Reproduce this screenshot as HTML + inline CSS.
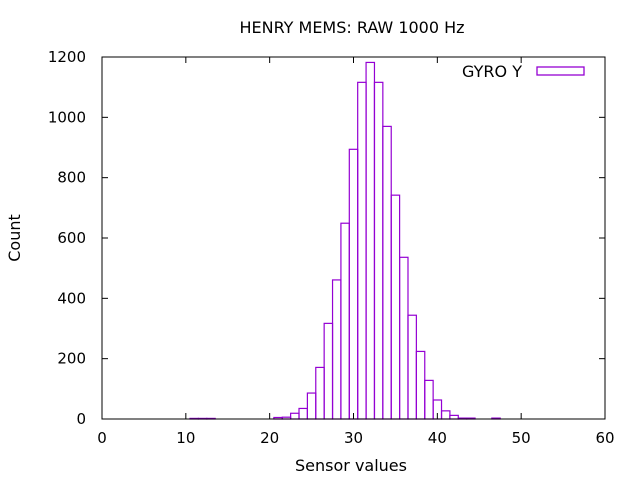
<!DOCTYPE html>
<html><head><meta charset="utf-8"><style>
html,body{margin:0;padding:0;background:#fff;}
svg{display:block;font-family:"DejaVu Sans","Liberation Sans",sans-serif;}
</style></head><body>
<svg id="chart" width="640" height="480">
<text x="352" y="33" font-size="16" text-anchor="middle">HENRY MEMS: RAW 1000 Hz</text>
<text x="351" y="471" font-size="16" text-anchor="middle">Sensor values</text>
<text transform="translate(20,238) rotate(-90)" font-size="16" text-anchor="middle">Count</text>
<g id="bars"></g>
<g id="axes"></g>
<g>
<text x="522" y="77" font-size="16" text-anchor="end">GYRO Y</text>
<rect x="537" y="67" width="47" height="8" fill="none" stroke="#9400d3" stroke-width="1.3"/>
</g>
</svg>
<script>
const categories=[11,12,13,21,22,23,24,25,26,27,28,29,30,31,32,33,34,35,36,37,38,39,40,41,42,43,44,47];
const counts=[2,2,2,5,6,19,35,86,171,317,461,649,894,1116,1182,1116,970,742,536,344,224,128,63,27,12,3,3,3];
const xTicks=[0,10,20,30,40,50,60];
const yTicks=[0,200,400,600,800,1000,1200];
const L=102,R=605,T=57,B=419;
const xs=v=>L+(v/60)*(R-L);
const ys=v=>B-(v/1200)*(B-T);
const NS="http://www.w3.org/2000/svg";
const bars=document.getElementById('bars'),axes=document.getElementById('axes');
categories.forEach((c,i)=>{
 const r=document.createElementNS(NS,'rect');
 const x0=xs(c-0.5),x1=xs(c+0.5),y=ys(counts[i]);
 r.setAttribute('x',x0);r.setAttribute('y',y);
 r.setAttribute('width',x1-x0);r.setAttribute('height',Math.max(B-y,0.5));
 r.setAttribute('fill','none');r.setAttribute('stroke','#9400d3');r.setAttribute('stroke-width','1.2');
 
 
 bars.appendChild(r);
});
const frame=document.createElementNS(NS,'rect');
frame.setAttribute('x',L);frame.setAttribute('y',T);frame.setAttribute('width',R-L);frame.setAttribute('height',B-T);
frame.setAttribute('fill','none');frame.setAttribute('stroke','#000');frame.setAttribute('stroke-width','1');


axes.appendChild(frame);
function line(x1,y1,x2,y2){const l=document.createElementNS(NS,'line');l.setAttribute('x1',x1);l.setAttribute('y1',y1);l.setAttribute('x2',x2);l.setAttribute('y2',y2);l.setAttribute('stroke','#000');


axes.appendChild(l);}
function text(x,y,s,anchor,name){const t=document.createElementNS(NS,'text');t.setAttribute('x',x);t.setAttribute('y',y);t.setAttribute('font-size','15');t.setAttribute('text-anchor',anchor);t.textContent=s;


axes.appendChild(t);}
xTicks.forEach(v=>{const x=xs(v);line(x,B,x,B-6);line(x,T,x,T+6);text(x,443,String(v),'middle','x-tick-label');});
yTicks.forEach(v=>{const y=ys(v);line(L,y,L+6,y);line(R,y,R-6,y);text(86,y+5,String(v),'end','y-tick-label');});
</script>
</body></html>
